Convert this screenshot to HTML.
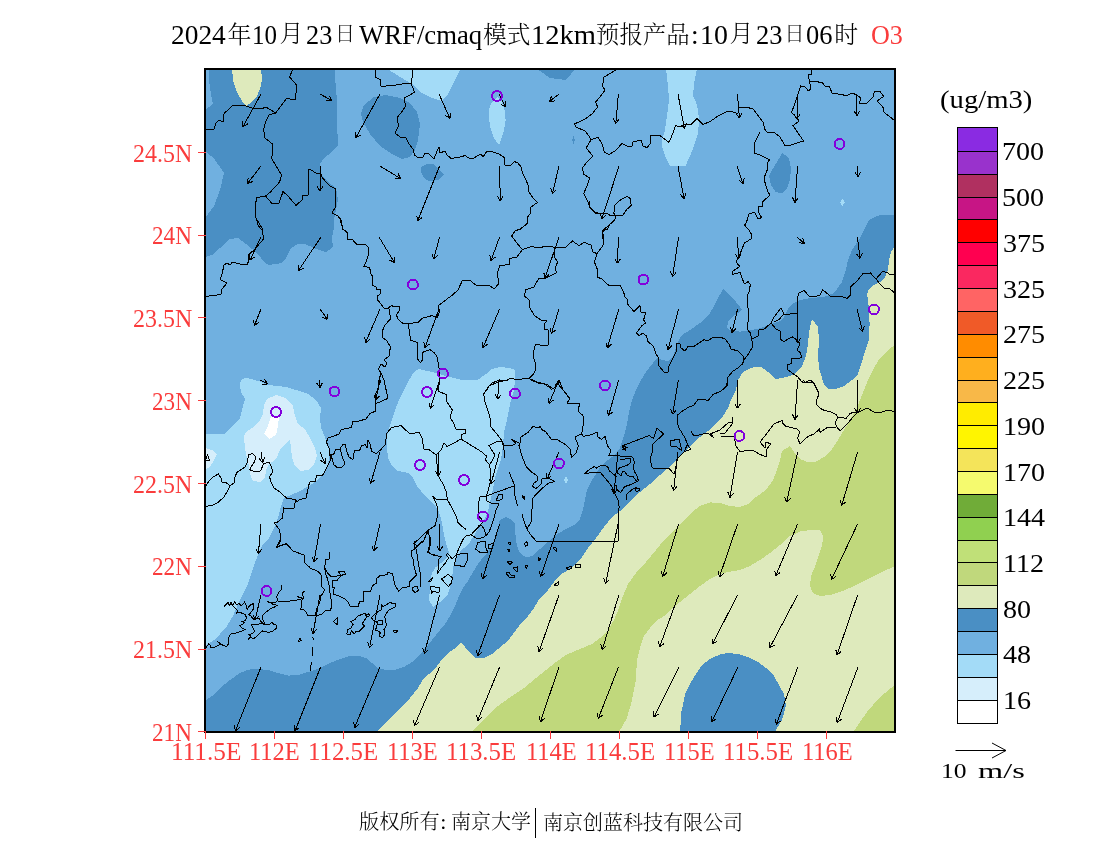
<!DOCTYPE html>
<html lang="zh-CN"><head><meta charset="utf-8"><title>WRF/cmaq O3</title>
<style>
html,body{margin:0;padding:0;background:#fff}
body{width:1100px;height:850px;position:relative;overflow:hidden;font-family:"Liberation Serif","Noto Serif CJK SC",serif}
.t{position:absolute;white-space:pre;line-height:1;color:#000;transform-origin:0 0}
.k{font-weight:300}
</style></head><body>
<svg width="1100" height="850" viewBox="0 0 1100 850" style="position:absolute;left:0;top:0" shape-rendering="crispEdges">
<defs><clipPath id="mapclip"><rect x="205" y="69" width="690" height="663"/></clipPath></defs>
<rect x="205" y="69" width="690" height="663" fill="#70b0e0"/>
<g clip-path="url(#mapclip)">
<polygon fill="#4a8fc4" points="335.0,68.0 335.6,86.0 337.0,100.0 337.6,140.0 337.6,146.0 332.0,152.0 324.0,158.0 320.0,164.0 320.0,168.0 322.0,176.0 328.0,182.0 336.0,188.0 338.0,200.0 336.0,210.0 334.0,220.0 333.6,230.0 332.0,238.0 333.0,247.0 326.0,252.4 314.0,248.0 306.0,244.4 298.0,244.0 291.0,248.0 286.0,258.0 282.0,263.0 269.0,265.0 264.0,262.0 258.0,254.0 246.0,244.0 238.0,238.0 230.0,239.0 220.0,248.0 212.0,255.0 205.0,257.0 205.0,218.0 214.0,206.0 220.0,190.0 224.0,173.0 214.0,158.5 205.0,151.0 205.0,110.0 213.0,104.0 211.0,94.0 209.5,84.0 209.0,68.0"/>
<polygon fill="#4a8fc4" points="361.0,114.0 364.0,105.0 374.0,97.0 386.0,95.0 400.0,98.0 410.0,103.0 417.0,112.0 420.0,124.0 418.0,140.0 415.0,150.0 410.0,157.0 402.0,159.0 392.0,154.0 380.0,146.0 370.0,134.0 363.0,122.0"/>
<polygon fill="#4a8fc4" points="421.0,167.0 426.0,164.4 433.0,164.0 439.0,169.0 444.0,175.0 438.0,180.0 430.0,181.6 424.0,178.0 421.0,172.0"/>
<polygon fill="#4a8fc4" points="536.0,68.0 550.0,78.0 566.0,80.0 576.0,68.0"/>
<polygon fill="#4a8fc4" points="573.4,136.0 575.0,140.0 573.4,144.0 572.0,140.0"/>
<polygon fill="#4a8fc4" points="782.4,153.0 789.0,158.0 791.0,168.0 790.0,180.0 787.0,188.0 782.4,193.6 775.6,192.0 771.0,185.0 769.0,176.0 772.0,170.0 777.0,162.0"/>
<polygon fill="#4a8fc4" points="896.0,214.4 878.0,215.6 869.0,220.0 864.0,230.0 860.0,238.0 852.0,250.0 848.0,260.0 846.0,270.0 842.0,282.0 834.0,293.0 824.0,297.0 810.0,298.0 800.0,300.0 792.0,304.0 788.0,309.0 784.0,317.0 780.0,321.0 774.0,323.0 766.0,326.0 758.0,329.0 748.0,330.4 740.0,331.6 732.0,331.0 727.0,328.0 728.0,322.0 732.0,317.0 738.0,313.0 742.0,309.4 732.0,297.0 723.0,289.0 717.0,300.0 713.0,308.0 708.0,316.0 700.0,323.0 690.0,330.0 682.0,335.0 679.0,340.0 676.0,348.0 673.0,356.0 668.0,361.0 662.0,360.0 657.0,358.0 653.0,363.0 646.0,372.0 640.0,382.0 636.0,390.0 632.0,400.0 629.0,412.0 627.0,424.0 624.0,436.0 620.0,448.0 615.0,455.0 608.0,460.0 600.0,467.0 596.0,474.0 592.0,480.0 587.0,490.0 585.0,500.0 583.0,510.0 580.0,519.0 574.0,525.0 564.0,530.0 556.0,535.0 548.0,542.0 540.0,549.0 532.0,556.0 526.5,557.4 523.0,555.7 519.4,552.1 517.0,546.2 515.8,539.1 515.2,530.8 514.7,523.7 511.1,519.6 506.4,516.9 501.7,519.0 499.3,520.8 498.7,527.3 496.9,533.2 494.6,539.1 492.2,545.0 488.7,550.9 485.1,555.7 481.6,559.2 478.0,563.9 474.5,569.8 470.9,575.7 468.0,581.0 463.0,588.0 459.0,596.0 455.0,606.0 450.0,616.0 445.0,624.0 440.0,630.0 432.0,640.0 424.0,650.0 418.0,657.0 412.0,662.0 404.0,667.0 396.0,669.6 386.0,670.0 378.0,668.0 372.0,663.0 366.0,658.0 358.0,655.6 350.0,656.0 340.0,659.0 330.0,663.0 320.0,668.0 308.0,672.0 298.0,675.0 288.0,675.6 278.0,673.0 268.0,670.0 258.0,669.0 248.0,669.6 240.0,673.0 230.0,680.0 220.0,688.0 212.0,696.0 205.0,701.0 205.0,733.0 896.0,733.0"/>
<polygon fill="#deeabc" points="896.0,244.0 891.0,252.0 889.0,260.0 888.0,270.0 885.0,277.0 880.0,282.0 874.0,285.0 869.0,289.0 867.0,294.0 868.0,300.0 869.0,310.0 869.6,324.0 869.0,340.0 866.0,348.0 863.0,358.0 860.0,368.0 858.0,374.0 852.0,380.0 844.0,386.0 836.0,389.0 829.0,389.0 824.0,385.0 822.0,378.0 819.0,368.0 818.0,356.0 819.0,340.0 818.0,327.0 812.0,319.0 809.0,332.0 808.0,344.0 806.0,356.0 802.0,366.0 795.0,374.0 786.0,377.0 776.0,379.0 768.0,372.0 761.0,367.0 752.0,367.6 743.0,372.0 738.0,380.0 736.0,390.0 731.0,400.0 728.0,408.0 723.0,416.0 716.0,424.0 708.0,431.0 700.0,437.0 692.0,444.0 684.0,452.0 676.0,460.0 668.0,468.0 660.0,475.0 650.0,484.0 640.0,492.0 630.0,501.0 620.0,511.0 612.0,517.0 604.0,527.0 596.0,538.0 588.0,548.0 582.0,557.0 576.0,564.0 568.0,570.0 560.0,575.0 554.0,582.0 548.0,590.0 540.0,598.0 534.0,608.0 528.0,616.0 522.0,622.0 516.0,630.0 510.0,638.0 504.0,644.0 498.0,649.0 492.0,654.0 484.0,658.0 476.0,658.0 470.0,653.0 465.0,647.0 461.0,642.0 454.0,649.0 447.0,654.0 440.0,662.0 434.0,670.0 424.0,678.0 418.0,688.0 410.0,698.0 400.0,708.0 375.0,733.0 896.0,733.0"/>
<polygon fill="#deeabc" points="232.0,68.0 233.0,80.0 237.0,92.0 242.0,101.0 246.4,105.6 251.0,103.0 257.0,96.0 260.4,88.0 262.0,80.0 261.0,68.0"/>
<polygon fill="#c0d87c" points="896.0,344.0 888.0,350.0 880.0,358.0 874.0,368.0 868.0,380.0 864.0,390.0 860.0,400.0 856.0,410.0 850.0,420.0 844.0,430.0 838.0,440.0 832.0,449.0 824.0,457.0 816.0,461.6 808.0,462.4 800.0,459.0 794.0,452.0 790.0,446.0 782.0,451.0 780.0,460.0 777.0,470.0 773.0,480.0 766.0,490.0 756.0,497.0 748.0,504.0 740.0,507.0 730.0,506.0 720.0,503.0 710.0,502.4 700.0,506.0 692.0,512.0 684.0,520.0 674.0,530.0 664.0,540.0 656.0,550.0 646.0,562.0 636.0,573.0 628.0,584.0 623.0,596.0 619.0,608.0 614.0,620.0 608.0,630.0 600.0,638.0 592.0,644.0 580.0,649.0 566.0,655.0 556.0,662.0 546.0,670.0 536.0,678.0 524.0,688.0 512.0,696.0 502.0,703.0 493.0,710.0 470.0,733.0 618.5,733.0 626.7,718.5 631.6,702.0 634.0,690.0 636.0,680.0 636.4,670.0 637.0,660.0 639.0,652.0 641.0,644.0 644.0,636.0 650.0,628.0 656.0,621.0 664.0,616.0 670.0,610.0 680.0,602.0 690.0,594.0 700.0,586.0 710.0,579.0 720.0,574.0 730.0,571.6 740.0,570.0 750.0,566.0 760.0,560.0 770.0,553.0 780.0,545.0 790.0,536.0 800.0,531.5 810.0,530.0 820.0,530.4 823.0,536.0 822.4,544.0 820.0,552.0 816.0,564.0 811.0,576.0 810.0,586.0 813.0,593.0 820.0,596.0 830.0,595.0 840.0,592.0 852.0,587.0 864.0,581.0 876.0,575.0 886.0,570.0 896.0,566.0"/>
<polygon fill="#c0d87c" points="852.5,733.0 867.0,712.0 880.0,697.0 896.0,684.0 896.0,733.0"/>
<polygon fill="#4a8fc4" points="680.0,733.0 681.4,712.0 685.6,692.4 690.0,684.0 696.0,674.0 702.0,665.0 710.0,659.0 720.0,654.4 728.0,653.0 738.0,654.0 748.0,657.0 758.0,662.0 766.0,668.0 774.0,676.0 780.0,687.0 784.0,694.0 786.0,705.5 782.0,720.0 774.0,733.0"/>
<polygon fill="#a3dbf7" points="386.0,68.0 400.0,77.0 412.0,84.0 420.0,92.0 432.0,98.0 441.0,101.0 447.0,96.0 453.0,84.0 457.0,76.0 461.0,68.0"/>
<polygon fill="#a3dbf7" points="497.0,97.0 491.0,103.0 489.0,110.0 489.0,118.0 490.4,128.0 494.0,138.0 499.0,145.0 501.0,140.0 504.0,130.0 505.6,120.0 505.0,112.0 502.0,102.0"/>
<polygon fill="#a3dbf7" points="666.0,68.0 668.0,86.0 669.0,100.0 667.0,116.0 665.0,130.0 662.0,140.0 662.4,148.0 665.0,156.0 669.6,165.6 685.6,165.6 690.0,156.0 694.0,146.0 698.0,134.0 699.0,120.0 698.0,110.0 696.0,102.0 693.0,96.0 694.0,84.0 697.0,68.0"/>
<polygon fill="#a3dbf7" points="842.4,199.0 845.0,202.4 842.4,206.0 840.0,202.4"/>
<polygon fill="#a3dbf7" points="205.0,434.0 225.0,434.0 232.0,426.0 240.0,418.0 243.0,406.0 245.0,399.0 241.0,392.0 240.0,385.0 241.0,380.0 246.0,377.6 260.0,381.6 268.0,385.0 286.0,387.0 296.0,390.0 308.0,394.0 316.0,400.0 321.0,408.0 320.0,418.0 321.0,428.0 325.0,437.0 328.0,446.0 330.0,454.0 328.0,464.0 324.0,473.0 318.0,480.0 309.0,486.0 300.0,491.0 291.0,495.0 284.0,498.0 281.0,506.0 278.0,518.0 274.0,528.0 269.0,538.0 262.0,546.0 260.0,550.0 256.0,560.0 252.0,572.0 248.0,584.0 243.0,594.0 238.0,604.0 233.0,616.0 227.0,626.0 220.0,634.0 214.0,640.0 205.0,646.0"/>
<polygon fill="#a3dbf7" points="404.0,390.0 399.0,400.0 395.0,410.0 392.0,420.0 389.0,428.0 387.0,436.0 387.0,448.0 388.0,458.0 392.0,466.0 398.0,471.0 408.0,473.0 413.0,478.0 417.0,486.0 414.2,480.0 417.7,487.1 423.6,494.2 430.7,501.3 435.5,506.0 439.0,511.9 441.4,520.2 443.1,529.6 444.9,539.1 447.3,547.4 449.6,553.3 447.3,556.8 441.4,562.7 435.5,567.5 431.9,573.4 430.7,580.0 430.0,588.0 429.0,600.0 433.0,607.0 440.0,602.0 448.0,594.0 452.0,580.0 452.6,573.4 453.2,567.5 454.4,562.7 456.7,558.0 459.1,553.3 461.5,549.7 465.0,547.4 468.6,544.4 470.9,540.3 473.9,535.6 476.8,530.8 479.2,527.3 481.6,523.7 483.9,520.2 486.3,515.5 488.1,510.7 489.2,506.0 490.4,500.1 492.2,493.0 493.4,487.1 494.6,480.0 496.0,474.0 501.0,460.0 503.0,446.0 504.0,432.0 507.0,420.0 510.0,404.0 514.0,390.0 515.0,380.0 515.0,370.0 509.0,368.0 500.0,367.0 492.0,369.0 486.0,374.0 478.0,379.6 460.0,379.6 446.0,376.0 432.0,372.0 419.0,369.0 414.0,372.0 409.0,380.0"/>
<polygon fill="#d6eefb" points="267.0,399.0 276.0,395.0 286.0,398.0 293.0,406.0 295.0,416.0 298.0,424.0 305.0,429.0 310.0,438.0 315.0,448.0 317.0,456.0 314.0,464.0 308.0,470.0 300.0,471.0 295.0,466.0 292.0,458.0 291.0,448.0 290.0,439.0 285.0,444.0 280.0,450.0 277.0,457.0 272.0,462.0 269.0,464.0 266.0,470.0 265.0,478.0 260.0,482.0 253.0,481.0 250.0,474.0 249.0,466.0 247.0,458.0 245.0,448.0 244.0,438.0 245.0,433.0 252.0,428.0 259.0,422.0 263.0,414.0 264.0,405.0"/>
<polygon fill="#d6eefb" points="205.0,448.0 212.0,450.0 217.0,454.0 214.0,460.0 210.0,467.0 205.0,470.0"/>
<polygon fill="#a3dbf7" points="566.0,476.5 568.0,480.4 566.0,484.5 564.0,480.4"/>
<polygon fill="#ffffff" points="271.0,417.0 279.0,417.0 278.0,426.0 276.0,435.0 269.0,439.0 264.0,434.0 268.0,426.0"/>
</g>
<g clip-path="url(#mapclip)" fill="none" stroke="#000" stroke-width="1" stroke-linejoin="round" shape-rendering="crispEdges">
<polyline points="206.0,129.6 214.0,129.0 216.0,123.0 219.0,120.0 223.6,122.0 224.0,113.6 232.4,105.6 246.4,106.0 255.0,109.0 267.0,107.6 275.6,113.0 287.0,98.0 292.4,100.0 295.6,99.6 296.6,85.0 289.6,77.0 292.4,70.0"/>
<polyline points="275.6,113.0 269.0,115.0 265.6,122.0 263.6,130.0 265.0,138.0 273.0,144.4 272.4,154.0 271.4,158.0 276.0,166.0 281.6,175.0 279.6,182.0 270.4,192.0 265.6,196.0 257.0,197.6 255.4,204.0 256.0,218.0 258.4,226.0 262.0,230.0"/>
<polyline points="265.6,196.0 272.0,203.6 279.0,203.0 283.0,191.6 288.0,196.0 296.0,205.4 302.0,200.0 302.4,196.0 308.0,195.6 309.0,184.0 308.0,169.6 311.0,170.0 316.0,173.0 321.0,173.6 322.4,178.0 330.0,186.0 335.6,189.0 336.0,200.0 335.0,208.0 332.0,213.0 338.0,216.0 341.0,220.0 343.0,230.0"/>
<polyline points="375.6,70.0 375.6,77.6 380.6,79.6 381.0,86.4 392.0,85.6 402.0,84.0 411.0,83.0 412.4,76.0 413.0,70.4"/>
<polyline points="411.0,83.0 414.4,92.0 409.0,95.6 404.0,98.0 405.6,106.0 401.0,113.0 397.4,117.0 398.4,126.0 395.0,133.0 400.0,137.0 406.0,138.0 409.0,144.0 413.6,150.0 414.4,155.0 418.0,157.6 423.0,157.0 425.0,153.6 429.0,154.0 434.0,159.0 437.0,151.0 439.0,147.0 440.0,153.0 445.0,151.0 447.0,155.0 451.0,158.4 458.0,157.6 465.0,155.6 469.0,158.0 473.0,159.0 477.0,156.0 481.0,154.0 483.0,157.0 487.0,151.0 492.0,151.6 499.0,154.0 504.4,157.6 505.0,165.0 510.0,166.0 514.4,161.6 518.0,163.0 521.0,167.0 522.4,173.0 526.0,180.0 528.0,185.0 529.0,192.0 533.0,198.0 537.6,202.4 531.0,207.0 530.0,214.0 527.0,218.0 527.6,223.0 523.0,227.0 520.0,230.0"/>
<polyline points="616.0,70.0 604.0,77.0 602.4,86.0 605.0,90.0 600.0,97.0 595.6,102.0 597.6,107.0 592.0,114.0 585.0,119.0 574.4,124.0 576.0,127.0 585.0,131.0 589.0,136.0 591.0,140.0 586.0,148.0 593.0,156.0 587.0,162.0 582.4,168.0 583.6,174.0 589.6,178.0 587.0,186.0 583.6,193.6 587.0,200.0 590.0,207.0 595.0,212.0 600.0,213.6"/>
<polyline points="591.0,140.0 598.0,137.0 602.0,144.0 604.4,152.0 609.0,154.4 615.0,151.0 622.0,143.6 628.0,146.4 632.0,146.0 633.0,142.0 641.0,140.0 643.0,146.0 647.0,147.6 650.0,144.0 651.0,135.0 660.0,135.6 664.4,139.0 669.0,142.4 673.0,133.0 675.6,125.6 681.0,127.0 684.0,124.0 691.0,124.4 697.0,118.6 703.0,124.4 710.0,121.6 718.0,116.0 728.0,111.0 733.0,112.0 738.0,113.6 739.0,107.0 748.0,107.6 753.0,109.0 760.0,118.0 763.6,123.0 764.4,129.0 767.6,132.4 775.0,133.0 780.0,137.0 785.0,145.6 791.0,145.0 803.6,141.0 798.0,133.0 793.0,125.6 799.0,121.0 797.0,118.0 791.6,112.4 795.0,103.0 798.0,94.0 800.6,86.0 805.0,87.0 808.0,90.4 811.0,89.6 809.6,81.0 808.0,75.0 812.0,74.0 811.0,70.0"/>
<polyline points="760.0,132.4 755.0,141.6 754.4,153.0 760.0,155.0 766.0,158.0 769.6,159.6 767.0,164.0 767.6,169.0 764.0,178.0 765.6,185.0 768.0,192.0 770.0,195.0 762.4,202.0 763.0,206.0 758.0,207.0 759.0,213.0 761.6,217.6 758.0,219.0 754.4,212.0 749.0,214.0 747.0,220.0 745.0,225.6 749.0,230.0"/>
<polyline points="809.6,81.0 822.0,82.4 825.0,86.0 829.6,87.0 832.0,93.0 840.0,94.4 847.0,95.6 852.0,93.0 857.0,95.0 861.0,98.4 859.0,104.0 867.0,103.0 873.0,97.0 874.4,91.6 879.6,91.0 883.6,96.4 877.0,101.0 883.6,108.0 884.0,112.4 890.0,117.0 894.0,120.0"/>
<polyline points="257.0,220.0 262.0,228.0 263.6,239.0 254.0,250.0 248.0,255.0 249.0,260.0 247.0,265.0 241.0,264.4 232.4,262.0 230.0,265.0 227.0,263.0 224.0,265.0 222.4,272.4 220.4,279.6 227.0,283.0 222.0,289.0 221.0,294.4 213.0,295.6 206.0,296.4"/>
<polyline points="340.0,220.0 343.0,229.0 347.0,232.4 347.0,239.0 352.4,239.6 356.4,244.0 366.0,245.0 369.0,248.0 368.4,255.0 366.0,262.0 364.0,266.4 369.6,267.6 371.0,274.0 373.0,277.0 372.4,285.0 376.0,287.0 376.4,290.0 380.6,289.6 380.0,294.4 377.0,296.0 378.0,300.4 384.0,308.0 389.0,309.0 390.0,315.0 390.4,319.0 385.0,325.0 382.4,331.0 382.0,337.0 387.0,341.0 390.4,347.0 389.0,356.0 384.0,360.0 387.0,363.0 385.0,367.0 381.0,364.0 378.4,369.0 381.0,373.0 384.0,380.0 386.0,390.0"/>
<polyline points="384.0,308.0 388.0,308.0 391.6,305.6 395.0,307.0 399.6,306.4 399.0,311.0 396.4,315.0 398.0,319.0 402.4,323.0 408.0,323.6 418.0,322.4 422.0,318.4 432.0,315.6 437.0,317.6 439.6,312.0 438.4,305.6 447.0,299.0 452.4,295.0 458.0,290.0 462.4,280.4 470.0,280.4 477.0,286.0 485.0,285.6 489.0,285.0 494.0,289.0 498.4,284.0 497.6,272.4 500.0,265.6 509.6,264.4 510.0,258.4 517.0,257.0 520.0,253.0 522.4,249.6 516.0,242.0 511.6,236.0 515.0,231.0 520.0,229.0 527.6,223.6 528.0,220.0"/>
<polyline points="408.0,323.6 409.6,332.0 410.4,340.0 417.0,342.4 418.0,350.0 417.6,359.0 420.4,362.4 423.0,359.6 422.4,352.4 430.0,349.6 434.4,353.0 437.6,357.6 438.4,366.0 440.0,372.0 439.0,382.0 437.0,390.0"/>
<polyline points="381.0,373.0 379.0,380.0 378.4,390.0"/>
<polyline points="522.4,249.6 532.0,246.4 538.0,248.0 547.0,246.0 555.0,247.4 566.0,247.0 572.4,241.0 579.0,245.6 584.0,242.4 591.0,245.0 593.0,252.0 597.0,253.6 603.0,245.6 603.6,237.0 602.4,231.0 609.0,225.0 615.0,220.0"/>
<polyline points="597.0,253.6 594.4,262.0 597.6,270.0 597.0,277.0 602.0,279.0 609.0,285.6 615.0,286.0 620.0,285.0 623.6,292.0 625.0,297.0 628.0,300.4 627.6,304.0 634.0,311.6 640.0,305.6 641.0,312.0 645.6,313.0 643.6,320.0 645.6,323.0 641.6,326.0 636.4,333.0 639.0,335.6 643.0,333.0 646.4,336.0 648.0,341.6 653.6,346.4 655.6,353.0 658.4,358.0 659.0,366.0 664.0,372.0 668.0,372.0 669.0,366.0 674.0,356.0 676.0,352.0 676.4,343.6 680.0,343.6 681.0,348.0 685.0,351.0 688.0,346.4 693.0,347.0 698.0,343.6 704.0,339.6 708.0,341.0 712.0,338.0 720.0,337.0 725.0,339.0 729.0,344.0 731.0,349.0 738.0,351.0 743.0,356.0 744.0,360.0 742.4,364.0 738.0,368.0 733.0,371.0 728.0,377.0 726.4,386.0 722.4,390.0"/>
<polyline points="555.0,247.4 554.0,256.0 557.6,262.0 555.0,269.0 557.0,272.4 546.0,278.0 538.4,279.0 534.0,287.0 525.6,290.0 524.4,296.0 529.0,300.0 530.0,308.0 534.4,315.6 541.0,320.0 547.0,321.0 544.0,324.0 544.4,329.0 548.0,329.6 549.0,338.0 548.0,345.0 543.0,345.6 535.6,344.0 534.0,350.0 533.0,357.0 535.6,363.0 536.0,369.0 533.6,374.0 529.0,378.4 522.4,379.0 515.0,379.6 512.0,378.0 504.0,381.0 499.6,380.0 492.0,383.0 488.0,387.0 487.0,390.0"/>
<polyline points="529.0,378.4 536.0,381.6 544.0,384.0 550.0,387.6 552.0,390.0"/>
<polyline points="555.0,386.0 559.0,380.0 563.0,390.0"/>
<polyline points="747.6,220.0 744.4,225.6 749.0,230.0 751.6,234.4 751.0,239.0 744.4,243.0 741.6,250.0 739.0,257.0 736.0,262.0 739.6,266.4 732.4,271.6 733.0,274.4 740.0,272.4 742.4,279.0 744.4,284.0 748.0,281.6 750.4,284.4 749.0,292.0 747.0,296.0 747.6,306.0 749.0,314.0 748.0,322.0 747.0,329.0 750.4,333.0 751.6,339.0 753.0,346.0 749.0,353.0 744.0,360.0"/>
<polyline points="751.6,339.0 758.0,336.0 759.0,330.0 764.4,329.0 771.0,323.0 774.0,317.0 781.0,308.0 784.0,314.4 797.0,313.6 797.6,306.0 797.0,299.0 799.0,293.0 804.0,290.4 810.0,297.0 819.6,295.6 822.4,290.0 825.6,292.0 830.0,296.0 841.0,296.4 847.0,298.4 851.0,294.4 850.4,287.0 857.0,281.0 863.0,273.6 870.4,273.0 876.0,279.0 882.4,271.6 887.6,272.4 890.0,275.0 894.0,274.4"/>
<polyline points="876.0,279.0 880.0,284.0 885.0,289.0 889.0,288.0 894.0,292.4"/>
<polyline points="771.0,323.0 776.0,329.0 780.0,331.0 781.0,339.6 784.0,341.6 788.0,339.0 792.4,337.0 797.0,340.0 800.0,344.0 797.0,350.0 800.0,352.4 801.6,357.0 798.0,359.0 792.0,358.4 791.0,363.6 787.0,365.0 787.0,369.0 793.0,373.6 798.0,377.0 801.0,381.0 804.0,383.0 810.0,380.0 814.0,383.0 817.0,390.0"/>
<polyline points="774.0,322.0 779.0,319.6 783.6,314.0"/>
<polyline points="381.0,380.0 375.0,396.0 376.0,403.6 388.0,398.4 384.0,380.0"/>
<polyline points="376.0,403.6 375.6,411.0 370.0,413.6 366.0,419.0 359.0,421.0 352.4,422.0 351.6,427.6 344.0,429.0 341.0,430.0 339.0,434.0 334.0,436.0 328.0,438.0 326.4,442.0 329.0,448.0 329.6,454.0 333.6,454.4 336.0,449.0 340.0,449.0 342.4,457.0 345.0,464.0 342.4,467.0 338.0,468.0 334.0,465.0 332.0,458.4 331.0,454.4"/>
<polyline points="329.6,454.0 331.0,459.0 325.0,471.0 322.4,475.6 316.4,475.0 315.6,481.0 309.6,482.0 308.0,489.0 306.0,498.0 299.6,499.6 297.0,502.0 295.6,499.6 286.4,498.0 280.0,492.0 274.0,488.0 271.0,482.0 269.6,477.0 273.0,471.0 270.0,464.0 269.0,462.4 263.6,463.6 261.0,470.0 259.0,471.6 252.4,471.0 249.6,469.6 251.6,466.0 254.4,462.0 256.0,457.0 252.4,453.6 248.4,455.0 247.6,462.0 245.0,467.0 237.0,472.4 234.4,478.0 234.0,483.0 230.0,486.0 227.0,492.0 224.0,497.0 218.0,502.4 213.0,505.0 208.4,505.6 206.0,507.0"/>
<polyline points="230.0,486.0 226.0,482.4 221.6,482.0 221.0,478.0 218.4,474.0 213.0,477.0 209.0,481.0 206.0,486.0"/>
<polyline points="340.0,449.0 342.4,445.0 345.0,444.0 347.0,452.0 349.0,457.0 353.0,459.6 354.4,450.0 359.6,450.4 361.6,446.0 365.0,444.4 367.0,447.6 368.0,440.0 370.0,444.0 371.6,451.0 376.0,453.6 380.0,450.4 385.6,444.4 386.4,433.6 391.6,427.6 401.0,425.6 405.0,429.6 410.0,433.6 420.0,432.4 419.6,433.0 422.0,438.0 424.0,449.0 429.6,450.0 436.0,455.0 441.0,450.0 444.0,443.0 447.0,446.4 452.4,444.0 461.0,439.0 461.0,434.4 465.6,433.6 465.0,429.0 455.6,429.0 453.6,423.0 450.0,417.0 452.4,410.0 446.4,401.0 447.0,395.0 438.0,391.0 440.0,380.0"/>
<polyline points="295.6,499.6 294.0,508.0 288.0,509.0 283.6,508.0 282.4,518.0 277.0,522.4 274.4,523.0 279.0,529.0 280.4,534.0 280.0,542.0 277.0,547.0 284.0,544.0 287.6,544.4 291.0,549.0"/>
<polyline points="436.0,455.0 437.0,464.0 438.0,475.6 443.0,484.0 446.0,491.0 447.6,500.0 452.0,508.0 456.0,516.0 458.0,522.4 462.0,526.4 466.4,529.6"/>
<polyline points="447.6,500.0 437.0,499.6 433.0,496.4 435.6,502.0 437.6,508.0 437.0,518.0 435.0,525.6 428.0,530.4 420.0,538.0 414.0,543.6 415.0,550.0"/>
<polyline points="428.0,530.4 429.6,538.0 430.0,550.0"/>
<polyline points="428.0,530.4 424.0,540.0 417.0,546.0 414.0,543.6"/>
<polyline points="461.0,439.0 469.0,444.0 476.0,448.4 482.0,452.0 486.4,456.0 485.6,460.0 489.6,465.0 493.0,459.0 495.0,455.0 491.0,449.0 489.0,445.6 498.0,441.0 502.4,441.6"/>
<polyline points="489.6,465.0 491.0,474.0 490.0,483.0 488.0,491.0 486.0,496.4 480.0,497.0 478.4,504.0 479.0,516.0 482.0,520.0"/>
<polyline points="486.0,496.4 487.0,501.0 492.0,503.6 499.0,503.6 496.0,510.0 494.0,518.0 491.0,527.0 489.0,532.0 486.0,536.0"/>
<polyline points="486.0,496.4 494.0,493.0 504.0,489.6 513.6,486.0"/>
<polyline points="508.0,380.0 498.0,382.0 489.0,386.0 483.6,394.0 485.0,402.0 488.0,411.0 490.4,419.0 491.0,427.0 495.6,432.4 500.0,438.0 502.4,441.6 504.0,445.6 512.0,445.6 516.0,443.6 512.0,439.6 517.0,442.0 520.0,443.6"/>
<polyline points="502.4,441.6 504.0,450.0 504.4,458.0"/>
<polyline points="520.0,443.6 521.0,437.0 528.0,432.4 533.0,426.4 538.0,428.0 540.4,426.4 541.6,429.6 545.6,431.6 551.0,439.0 558.0,440.0 566.0,445.0 570.0,449.0 571.6,457.6 576.0,453.0 578.4,446.0 575.0,437.0 581.6,434.0 583.6,436.4 590.0,435.0 597.0,432.4 598.0,437.0 601.6,439.6 605.0,436.4 607.6,446.0 611.0,450.4 609.0,455.0 619.0,455.0"/>
<polyline points="520.0,443.6 519.0,445.6 522.0,456.0 526.0,466.4 532.0,472.4 537.0,475.6 538.0,480.0 533.6,483.6 532.4,486.4 536.0,488.4 541.0,484.4 541.6,479.0 548.4,478.0 555.0,481.6 549.0,483.0 542.4,488.0 536.0,494.4 532.4,499.0 532.0,510.0 531.0,522.0 527.0,529.0 530.0,534.0 536.0,541.0 618.4,541.0"/>
<polyline points="509.0,471.6 514.0,484.0 515.0,496.0 517.6,506.0"/>
<polyline points="522.0,514.4 525.0,524.0 527.0,529.0"/>
<polyline points="531.0,380.0 538.0,383.0 547.0,384.4 553.0,389.0 558.0,384.0 559.0,380.0"/>
<polyline points="558.0,384.0 564.0,391.0 567.0,395.0 570.0,399.0 567.0,403.0 576.0,403.6 579.6,404.0 578.0,411.0 583.0,415.6 583.6,423.0 581.6,434.0"/>
<polyline points="496.4,500.0 499.0,494.0 503.0,494.4 502.0,499.0 498.0,501.0 496.4,500.0"/>
<polyline points="521.6,495.6 525.0,496.4 524.4,499.6 521.6,495.6"/>
<polyline points="727.0,380.0 727.0,386.0 720.0,391.6 713.0,394.4 708.0,401.0 704.0,399.0 698.0,399.6 694.0,405.0 688.0,407.6 681.0,412.0 677.0,415.6 677.0,421.0 678.4,427.0 682.0,433.0 685.0,438.0 687.6,444.0 684.0,452.0 677.0,459.0 675.6,469.0 674.0,474.0 669.0,468.4 652.4,468.0 650.0,459.0 652.4,452.0 653.0,444.0 663.6,434.0 657.0,428.0 653.6,438.4 649.0,435.6 622.0,446.0 624.0,449.0 628.0,447.0"/>
<polyline points="684.0,452.0 691.0,449.0 688.0,445.6 685.0,438.0"/>
<polyline points="670.0,441.0 679.0,439.0 682.0,451.0 677.0,447.0 671.0,446.0 670.0,441.0"/>
<polyline points="691.0,431.6 694.0,436.0 708.0,433.0 713.6,437.6 711.0,433.6 720.0,430.0 728.0,423.0 733.0,422.0 732.0,417.0"/>
<polyline points="720.0,434.0 725.0,433.0 733.0,423.0"/>
<polyline points="720.0,436.0 734.0,436.4 736.0,446.0 740.0,451.6 752.0,450.0 760.0,454.4 766.4,457.0 766.0,450.0 771.0,443.6 766.0,442.4 765.0,448.0 760.0,442.0 768.0,432.0 774.0,424.0 783.0,420.0 782.4,423.0 786.0,426.4 797.0,429.0 800.0,431.6 797.6,438.0 800.0,444.0 808.0,436.4 814.0,434.0 819.6,429.0 820.0,432.4 827.0,427.6 836.0,427.0"/>
<polyline points="803.0,380.0 806.0,383.0 813.0,382.0 817.0,389.0 819.0,394.0 817.0,399.0 816.0,404.0 822.0,409.6 831.0,412.0 836.0,414.4 838.0,417.0 846.0,418.4 850.0,413.6 854.0,412.0 857.0,413.0 867.0,408.0 874.0,412.0 878.0,413.0 889.0,410.0 894.0,411.6"/>
<polyline points="838.0,417.0 835.0,423.0 837.0,427.0 840.0,431.0 848.0,423.0 853.0,417.0 857.0,413.0"/>
<polyline points="622.0,449.0 626.0,450.4 625.6,446.0 622.0,446.0"/>
<polyline points="626.0,500.0 627.0,494.0 632.0,489.6 637.0,487.0"/>
<polyline points="635.0,489.0 639.0,488.0 640.0,490.4 636.4,491.6 635.0,489.0"/>
<polyline points="280.0,540.0 276.0,547.6 286.0,543.6 293.0,551.0 304.0,555.0 304.4,562.4 310.0,567.6"/>
<polyline points="224.2,606.2 228.1,602.5 229.5,605.4 231.0,602.5 232.5,605.4 234.5,601.9 236.6,604.8 239.0,603.6 241.4,605.8 244.7,601.9 246.1,605.4 247.3,609.5 249.6,605.4 253.4,603.6 253.8,608.4 251.4,611.9 248.5,614.9 250.8,616.0 254.4,620.2"/>
<polyline points="232.5,605.4 235.5,608.4 237.8,611.3 236.6,613.1 240.2,612.5 244.9,614.3 246.7,617.8 244.9,620.8 241.4,621.4 244.3,622.0 242.5,624.9 239.0,625.1 242.0,627.9 245.5,629.6 241.4,631.1 235.5,633.2 230.7,634.1 229.0,636.7 228.4,643.8 226.6,646.4 223.6,645.6 220.7,643.8 217.1,641.5 220.7,644.4 215.4,646.8 211.2,648.0 210.0,644.8 208.9,643.8 206.5,646.8 205.3,649.1"/>
<polyline points="281.5,585.3 281.5,589.5 278.6,592.4 276.8,596.5 277.4,600.1 278.6,601.5 288.0,601.3 296.9,600.1 301.4,598.9 304.0,598.3 302.8,595.4 302.6,592.4 304.6,591.6"/>
<polyline points="267.4,601.5 270.9,603.0 275.6,602.5 277.1,601.3"/>
<polyline points="270.9,603.0 273.9,604.8 277.4,605.1 275.6,606.6 270.9,608.4 266.2,611.9 262.6,615.5 262.0,618.4 263.8,620.8 264.4,624.9"/>
<polyline points="254.4,620.2 255.5,618.4 259.1,618.4 260.9,621.4 262.6,623.1 264.4,624.9 269.1,624.9 271.5,622.3 273.9,624.3 276.8,625.5 276.2,628.5 273.3,630.8 269.1,632.2 264.4,631.8 262.0,630.8 259.1,633.8 255.5,637.3 253.8,638.5 250.8,637.7 248.5,639.1 250.8,636.1 248.7,634.4 252.0,633.8 254.6,631.1 253.2,628.5 251.4,624.9 257.9,624.7 262.0,622.8"/>
<polyline points="297.1,596.5 300.5,597.7 303.4,598.3 301.6,600.7 301.9,605.4 300.5,609.0 304.6,610.1 307.0,613.7 307.0,615.2 314.6,615.2"/>
<polyline points="298.3,641.5 299.9,638.1 301.6,640.5 298.3,641.5"/>
<polyline points="312.9,636.7 313.2,640.3"/>
<polyline points="312.3,647.4 312.3,655.6"/>
<polyline points="311.3,662.1 310.5,671.0"/>
<polyline points="310.0,568.4 314.7,569.8 319.5,572.5 321.8,576.6 321.8,586.7 324.8,589.6 322.4,594.4 320.6,595.5 320.0,601.5 317.1,608.0 315.9,612.1 315.7,615.6 310.0,615.6"/>
<polyline points="315.7,615.6 321.2,614.5 325.4,610.7 330.1,610.7 331.5,607.4 331.5,603.8 330.7,596.7 329.5,589.6 328.9,583.7 327.1,577.8 325.4,573.1 324.8,568.4 325.4,559.5 329.5,558.9 329.5,552.4"/>
<polyline points="325.4,568.4 327.7,573.1 331.3,576.9 337.2,576.0 341.9,575.2 345.5,574.0 344.3,571.3 341.9,571.7 338.4,571.9 341.3,575.5 337.2,580.2 332.5,580.8 332.7,587.3 334.8,587.5 333.4,589.6 333.0,593.8 337.2,595.3 341.0,597.0 342.9,597.7 344.9,599.1 347.8,602.0 350.2,606.2 358.2,606.2 359.6,601.5 363.2,601.5 363.4,592.0 370.3,591.4 372.0,587.3 373.8,584.3 376.8,583.7 376.8,578.4 380.3,575.2 387.4,574.9 387.8,572.5 392.1,573.7 393.3,576.6 394.5,583.7 396.3,587.3 398.6,591.4 402.2,587.9 409.0,586.7 409.9,581.4 416.4,574.9 415.2,570.7 413.4,563.6 414.0,561.3 411.6,556.5 411.4,551.2 415.2,548.3 414.0,542.4 417.0,540.0"/>
<polyline points="415.2,548.3 418.7,545.3 424.0,540.6"/>
<polyline points="415.8,548.3 417.0,554.2 418.1,561.3 419.3,568.4 420.5,574.3 420.5,586.7"/>
<polyline points="430.0,540.0 430.5,544.7 429.4,548.3 427.6,552.4 432.9,555.1 437.6,556.0 440.0,556.0"/>
<polyline points="346.6,634.5 347.8,629.8 350.8,628.0 353.1,624.5 350.8,621.5 355.5,619.2 357.3,616.2 362.0,614.5 365.0,613.3 365.5,615.6 368.5,613.9 369.7,615.6 366.7,616.8 364.4,620.4 362.0,623.9 364.6,625.7 362.0,628.6 359.6,631.0 355.5,631.9 354.3,634.0 351.4,631.0 350.2,634.5 346.6,634.5"/>
<polyline points="371.5,617.4 374.4,614.5 378.0,611.5 381.5,609.7 381.5,604.4 383.0,606.8 386.8,604.4 390.4,602.4 392.7,603.8 395.3,603.8 395.7,606.8 392.7,608.0 389.2,609.7 386.8,612.7 384.7,616.2 385.6,621.5 386.6,625.1 383.9,629.8 385.0,634.0 382.1,638.1 379.1,635.7 380.3,632.8 377.4,630.4 375.0,630.4 376.8,626.9 377.4,622.7 374.8,621.5 372.6,619.8 371.5,617.4"/>
<polyline points="374.8,621.5 382.1,620.4 382.1,624.5 378.0,624.5"/>
<polyline points="333.4,621.5 337.4,617.4 337.2,624.5 333.4,621.5"/>
<polyline points="392.7,630.8 398.0,630.8 395.3,632.8 392.7,630.8"/>
<polyline points="412.2,587.9 417.0,585.9 418.5,590.2 415.2,592.6 412.8,590.2 412.2,587.9"/>
<polyline points="454.0,565.0 457.0,555.0 463.0,553.0 468.0,554.0 467.6,560.0 464.0,567.0 459.0,565.6 454.0,565.0"/>
<polyline points="441.6,579.0 448.0,574.4 452.4,577.6 451.6,583.0 448.4,586.4 445.0,583.0 441.6,579.0"/>
<polyline points="430.4,586.4 439.6,587.6 439.0,592.4 433.0,591.6 431.6,593.6 430.4,586.4"/>
<polyline points="428.4,582.0 433.0,577.0 431.0,581.0 428.4,582.0"/>
<polyline points="475.6,549.0 478.0,542.4 485.0,541.0 486.0,548.0 488.0,553.0 480.0,552.4 475.6,549.0"/>
<polyline points="488.0,544.4 493.6,543.6 492.4,548.4 488.4,548.4 488.0,544.4"/>
<polyline points="508.0,542.0 511.0,543.0 509.6,545.0 508.0,542.0"/>
<polyline points="507.0,549.0 510.0,550.0 509.0,551.6 507.0,549.0"/>
<polyline points="524.4,543.6 527.0,541.6 527.6,545.0 525.6,546.4 524.4,543.6"/>
<polyline points="507.0,561.6 512.4,562.0 510.0,564.4 507.0,561.6"/>
<polyline points="513.0,568.0 517.6,567.0 517.0,572.0 513.0,568.0"/>
<polyline points="525.0,565.0 527.6,566.0 526.4,568.4 525.0,565.0"/>
<polyline points="538.0,557.6 541.0,559.0 539.0,560.4 538.0,557.6"/>
<polyline points="506.0,573.0 509.0,572.4 511.0,575.0 515.0,575.6 514.0,578.0 509.0,577.0 506.0,573.0"/>
<polyline points="553.0,548.0 556.0,547.6 556.4,551.6 553.0,548.0"/>
<polyline points="566.4,568.0 571.0,566.0 572.0,568.4 568.0,569.6 566.4,568.0"/>
<polyline points="575.0,564.4 580.4,564.0 581.0,567.0 576.0,567.6 575.0,564.4"/>
<polyline points="554.0,585.0 559.0,581.6 558.0,585.0 554.0,585.0"/>
<polyline points="589.1,201.5 589.4,207.4 595.3,213.5 600.0,213.2 606.0,213.0 610.0,215.3 615.3,215.3 613.0,212.4 614.4,211.8 614.4,205.9 618.2,201.8 621.2,199.4 627.4,196.2 630.3,198.8 630.6,203.8 631.8,205.0 626.5,209.7 622.9,215.3 615.3,215.3 615.3,218.8 609.4,224.7 607.4,229.1 603.5,230.6 602.4,233.5 602.6,238.2 603.5,240.0"/>
<polyline points="618.5,541.0 618.5,520.0 619.1,506.4 618.0,499.8 615.8,495.5 613.6,491.1 612.0,486.7 606.0,479.1 600.0,472.0 594.0,472.5 584.7,473.4 589.6,469.3 594.5,466.5 596.2,468.2 600.5,465.5 604.9,465.5 607.6,466.5 609.3,470.9 614.2,474.7 616.9,476.9"/>
<polyline points="618.0,455.6 621.3,456.2 631.1,456.2 633.3,458.4 634.4,462.7 633.3,466.0 634.4,471.5 637.6,476.9 638.2,480.7 635.5,482.4 631.1,484.5 624.5,486.7 620.7,492.7 616.9,489.5 615.8,484.5"/>
<polyline points="620.2,459.5 630.0,458.4 630.5,462.7 627.8,464.9 619.1,468.2 616.9,472.5 621.3,475.8 622.4,472.0 624.5,471.5 627.8,475.8 633.3,476.9 636.5,481.3"/>
<polyline points="608.2,455.6 618.0,455.6"/>
<polyline points="482.7,522.5 470.9,534.9 466.2,535.5 463.2,539.0 460.3,544.9 457.9,550.8 455.6,555.6 452.0,559.1 449.6,555.6 447.3,553.2 446.7,555.6 448.5,557.9 444.9,563.8 441.4,567.4 437.8,573.3 438.4,563.8 439.0,559.1 441.4,556.7 436.6,555.6 430.7,553.8 427.8,552.0 429.0,547.3 431.0,541.4 429.6,535.5 426.6,531.9"/>
<polyline points="470.9,534.9 476.8,538.4 482.7,537.8 485.7,535.5 484.5,529.6 481.6,525.4 478.0,525.4"/>
<polyline points="205.5,460.0 207.5,454.5 209.5,460.0 205.5,460.0"/>
</g>
<g fill="none" stroke="#000" clip-path="url(#mapclip)"><path d="M261.0,94.0L243.0,126.6M320.0,94.0L332.0,100.6M380.0,94.0L355.6,138.0M439.0,94.0L450.0,118.6M499.0,94.0L505.4,107.0M559.0,94.0L549.4,101.6M618.4,94.0L615.8,123.6M678.0,94.0L684.4,128.6M737.4,94.0L739.4,118.0M797.0,94.0L797.0,119.0M856.6,94.0L857.0,115.6M261.0,166.0L247.4,183.6M320.0,166.0L320.0,191.0M380.0,166.0L400.6,178.6M439.6,166.0L417.6,221.0M499.4,166.0L500.4,201.0M559.0,166.0L552.4,193.6M619.0,166.0L601.8,219.0M678.0,166.0L684.0,198.6M737.0,166.0L743.0,183.6M797.6,166.0L795.0,202.4M857.4,166.0L858.0,176.6M261.0,237.0L250.0,260.0M321.0,237.0L298.4,270.6M379.0,237.0L394.4,262.6M439.6,237.0L433.6,259.4M499.6,237.0L491.0,260.6M559.0,237.0L545.0,278.0M618.4,237.0L617.5,263.5M678.6,237.0L672.6,276.6M737.4,237.0L738.6,259.0M797.0,237.0L804.4,243.6M857.4,237.0L860.0,258.4M261.0,309.0L254.4,325.6M320.0,309.0L327.4,319.4M380.0,309.0L365.6,342.6M439.0,309.0L425.0,347.6M499.6,309.0L483.0,347.6M559.0,309.0L551.4,333.6M618.8,309.0L607.3,348.0M678.6,309.0L668.0,349.6M737.6,309.0L732.0,332.4M797.0,309.0L798.0,343.0M857.0,309.0L862.6,331.6M260.0,380.0L267.6,384.0M319.4,380.0L320.0,387.6M380.0,380.0L375.6,400.0M439.6,380.0L430.4,408.4M499.0,380.0L497.6,399.4M559.0,380.0L549.0,403.4M618.6,380.0L608.6,415.6M678.4,380.0L672.6,414.4M737.4,380.0L737.6,408.4M797.6,380.0L795.0,419.4M857.6,380.0L857.6,413.0M261.0,452.0L262.6,462.6M320.0,452.0L325.0,463.6M380.0,452.0L370.6,483.6M439.0,452.0L438.0,476.0M499.6,452.0L491.0,484.0M559.0,452.0L547.0,479.0M618.0,452.0L614.0,494.0M678.0,452.0L673.6,490.6M737.6,452.0L730.0,497.4M797.6,452.0L786.6,502.4M857.6,452.0L841.6,505.6M261.0,524.0L258.4,553.6M320.6,524.0L314.0,562.0M380.0,524.0L373.6,551.0M439.4,524.0L440.0,551.0M499.6,524.0L482.4,579.0M559.0,524.0L540.6,576.6M618.0,524.0L605.6,583.6M678.6,524.0L662.6,576.6M737.6,524.0L719.4,577.0M797.6,524.0L775.6,576.0M857.6,524.0L831.4,579.6M261.0,595.0L255.0,620.0M320.0,595.0L313.0,633.6M380.0,595.0L369.6,647.6M439.6,595.0L424.4,653.6M499.6,595.0L477.6,656.0M559.0,595.0L539.0,651.6M618.8,595.0L602.3,649.6M678.6,595.0L659.6,647.0M737.6,595.0L712.4,644.0M797.6,595.0L769.6,648.0M857.6,595.0L837.0,655.0M261.0,667.0L235.3,731.0M320.6,667.0L295.0,731.0M380.0,667.0L354.5,727.7M439.6,667.0L414.4,725.7M499.6,667.0L477.5,720.8M559.0,667.0L540.4,721.8M618.5,667.0L598.3,718.5M679.0,667.0L653.9,717.0M738.0,667.0L711.8,721.8M797.9,667.0L776.3,724.4M858.0,667.0L837.2,722.5" stroke-width="1" shape-rendering="crispEdges"/><path d="M243.0,126.6L247.8,123.8M243.0,126.6L242.8,121.0M332.0,100.6L329.2,95.8M332.0,100.6L326.4,100.8M355.6,138.0L360.5,135.2M355.6,138.0L355.4,132.4M450.0,118.6L450.7,113.0M450.0,118.6L445.4,115.4M505.4,107.0L505.9,101.4M505.4,107.0L500.7,104.0M549.4,101.6L555.0,100.9M549.4,101.6L551.4,96.4M615.8,123.6L619.1,119.1M615.8,123.6L613.3,118.6M684.4,128.6L686.4,123.4M684.4,128.6L680.7,124.4M739.4,118.0L741.9,113.0M739.4,118.0L736.1,113.5M797.0,119.0L799.9,114.2M797.0,119.0L794.1,114.2M857.0,115.6L859.8,110.7M857.0,115.6L854.0,110.9M247.4,183.6L252.6,181.6M247.4,183.6L248.1,178.0M320.0,191.0L322.9,186.2M320.0,191.0L317.1,186.2M400.6,178.6L398.0,173.6M400.6,178.6L395.0,178.6M417.6,221.0L422.1,217.6M417.6,221.0L416.7,215.5M500.4,201.0L503.1,196.1M500.4,201.0L497.4,196.3M552.4,193.6L556.3,189.6M552.4,193.6L550.7,188.3M601.8,219.0L606.0,215.3M601.8,219.0L600.5,213.5M684.0,198.6L686.0,193.4M684.0,198.6L680.3,194.4M743.0,183.6L744.2,178.1M743.0,183.6L738.7,180.0M795.0,202.4L798.2,197.8M795.0,202.4L792.5,197.4M858.0,176.6L860.6,171.6M858.0,176.6L854.8,172.0M250.0,260.0L254.7,256.9M250.0,260.0L249.5,254.4M298.4,270.6L303.5,268.2M298.4,270.6L298.7,265.0M394.4,262.6L394.4,257.0M394.4,262.6L389.5,260.0M433.6,259.4L437.6,255.5M433.6,259.4L432.1,254.0M491.0,260.6L495.4,257.1M491.0,260.6L489.9,255.1M545.0,278.0L549.3,274.4M545.0,278.0L543.8,272.5M617.5,263.5L620.5,258.8M617.5,263.5L614.8,258.6M672.6,276.6L676.2,272.3M672.6,276.6L670.5,271.4M738.6,259.0L741.2,254.0M738.6,259.0L735.5,254.4M804.4,243.6L802.7,238.3M804.4,243.6L798.9,242.6M860.0,258.4L862.3,253.3M860.0,258.4L856.6,254.0M254.4,325.6L258.9,322.2M254.4,325.6L253.5,320.1M327.4,319.4L327.0,313.8M327.4,319.4L322.3,317.2M365.6,342.6L370.1,339.3M365.6,342.6L364.8,337.1M425.0,347.6L429.3,344.1M425.0,347.6L423.9,342.1M483.0,347.6L487.5,344.3M483.0,347.6L482.2,342.1M551.4,333.6L555.6,329.9M551.4,333.6L550.1,328.2M607.3,348.0L611.4,344.2M607.3,348.0L605.9,342.6M668.0,349.6L672.0,345.7M668.0,349.6L666.4,344.2M732.0,332.4L735.9,328.4M732.0,332.4L730.3,327.1M798.0,343.0L800.7,338.1M798.0,343.0L795.0,338.3M862.6,331.6L864.2,326.2M862.6,331.6L858.6,327.6M267.6,384.0L264.7,379.2M267.6,384.0L262.0,384.3M320.0,387.6L322.5,382.6M320.0,387.6L316.7,383.0M375.6,400.0L379.4,395.9M375.6,400.0L373.8,394.7M430.4,408.4L434.6,404.7M430.4,408.4L429.1,402.9M497.6,399.4L500.8,394.8M497.6,399.4L495.1,394.4M549.0,403.4L553.5,400.1M549.0,403.4L548.2,397.9M608.6,415.6L612.7,411.8M608.6,415.6L607.1,410.2M672.6,414.4L676.2,410.1M672.6,414.4L670.6,409.2M737.6,408.4L740.5,403.6M737.6,408.4L734.7,403.6M795.0,419.4L798.2,414.8M795.0,419.4L792.4,414.4M857.6,413.0L860.5,408.2M857.6,413.0L854.7,408.2M262.6,462.6L264.7,457.4M262.6,462.6L259.0,458.3M325.0,463.6L325.7,458.1M325.0,463.6L320.5,460.3M370.6,483.6L374.7,479.8M370.6,483.6L369.2,478.2M438.0,476.0L441.1,471.3M438.0,476.0L435.3,471.1M491.0,484.0L495.0,480.1M491.0,484.0L489.5,478.6M547.0,479.0L551.6,475.8M547.0,479.0L546.3,473.4M614.0,494.0L617.3,489.5M614.0,494.0L611.6,488.9M673.6,490.6L677.0,486.2M673.6,490.6L671.3,485.5M730.0,497.4L733.6,493.1M730.0,497.4L727.9,492.2M786.6,502.4L790.4,498.3M786.6,502.4L784.8,497.1M841.6,505.6L845.7,501.8M841.6,505.6L840.2,500.2M258.4,553.6L261.7,549.1M258.4,553.6L255.9,548.6M314.0,562.0L317.7,557.8M314.0,562.0L312.0,556.8M373.6,551.0L377.5,547.0M373.6,551.0L371.9,545.7M440.0,551.0L442.8,546.1M440.0,551.0L437.0,546.3M482.4,579.0L486.6,575.3M482.4,579.0L481.1,573.6M540.6,576.6L544.9,573.0M540.6,576.6L539.5,571.1M605.6,583.6L609.4,579.5M605.6,583.6L603.8,578.3M662.6,576.6L666.8,572.8M662.6,576.6L661.2,571.2M719.4,577.0L723.7,573.4M719.4,577.0L718.2,571.5M775.6,576.0L780.1,572.7M775.6,576.0L774.8,570.5M831.4,579.6L836.1,576.5M831.4,579.6L830.8,574.0M255.0,620.0L258.9,616.0M255.0,620.0L253.3,614.7M313.0,633.6L316.7,629.4M313.0,633.6L311.0,628.4M369.6,647.6L373.4,643.5M369.6,647.6L367.7,642.3M424.4,653.6L428.4,649.7M424.4,653.6L422.8,648.2M477.6,656.0L481.9,652.5M477.6,656.0L476.5,650.5M539.0,651.6L543.3,648.0M539.0,651.6L537.9,646.1M602.3,649.6L606.4,645.8M602.3,649.6L600.9,644.2M659.6,647.0L664.0,643.5M659.6,647.0L658.5,641.5M712.4,644.0L717.2,641.1M712.4,644.0L712.0,638.4M769.6,648.0L774.4,645.1M769.6,648.0L769.3,642.4M837.0,655.0L841.3,651.4M837.0,655.0L835.8,649.5M235.3,731.0L239.8,727.6M235.3,731.0L234.4,725.5M295.0,731.0L299.5,727.6M295.0,731.0L294.1,725.5M354.5,727.7L359.0,724.4M354.5,727.7L353.7,722.2M414.4,725.7L418.9,722.4M414.4,725.7L413.6,720.2M477.5,720.8L482.0,717.5M477.5,720.8L476.7,715.3M540.4,721.8L544.7,718.2M540.4,721.8L539.2,716.3M598.3,718.5L602.7,715.1M598.3,718.5L597.4,713.0M653.9,717.0L658.6,714.0M653.9,717.0L653.5,711.4M711.8,721.8L716.5,718.7M711.8,721.8L711.3,716.2M776.3,724.4L780.7,720.9M776.3,724.4L775.3,718.9M837.2,722.5L841.6,719.0M837.2,722.5L836.2,717.0" stroke-width="1" shape-rendering="crispEdges"/></g>
<g fill="none" stroke="#8200dc" stroke-width="2" shape-rendering="crispEdges">
<circle cx="497.0" cy="96.0" r="4.9"/>
<circle cx="839.6" cy="144.0" r="4.9"/>
<circle cx="413.0" cy="284.6" r="4.9"/>
<circle cx="643.4" cy="279.6" r="4.9"/>
<circle cx="874.0" cy="309.4" r="4.9"/>
<circle cx="334.5" cy="391.5" r="4.9"/>
<circle cx="276.0" cy="412.0" r="4.9"/>
<circle cx="427.0" cy="392.0" r="4.9"/>
<circle cx="443.0" cy="373.6" r="4.9"/>
<circle cx="515.0" cy="393.6" r="4.9"/>
<circle cx="605.0" cy="385.4" r="4.9"/>
<circle cx="420.0" cy="465.0" r="4.9"/>
<circle cx="464.0" cy="480.0" r="4.9"/>
<circle cx="559.0" cy="463.4" r="4.9"/>
<circle cx="483.0" cy="516.4" r="4.9"/>
<circle cx="739.4" cy="436.0" r="4.9"/>
<circle cx="266.6" cy="591.0" r="4.9"/>
</g>
<rect x="205" y="69" width="690" height="663" fill="none" stroke="#000" stroke-width="2"/>
<path d="M205.5,731V739M274.5,731V739M343.5,731V739M412.5,731V739M481.5,731V739M550.5,731V739M619.5,731V739M688.5,731V739M757.5,731V739M826.5,731V739M198,731.5H206M198,649.5H206M198,566.5H206M198,483.5H206M198,400.5H206M198,317.5H206M198,235.5H206M198,152.5H206" stroke="#fa3c3c" stroke-width="1" fill="none"/>
<rect x="957.5" y="127.5" width="40.0" height="24.0" fill="#8a2be2"/>
<rect x="957.5" y="151.5" width="40.0" height="23.0" fill="#9932cc"/>
<rect x="957.5" y="174.5" width="40.0" height="23.0" fill="#b03060"/>
<rect x="957.5" y="197.5" width="40.0" height="22.0" fill="#c71585"/>
<rect x="957.5" y="219.5" width="40.0" height="23.0" fill="#ff0000"/>
<rect x="957.5" y="242.5" width="40.0" height="23.0" fill="#ff0050"/>
<rect x="957.5" y="265.5" width="40.0" height="23.0" fill="#fa2860"/>
<rect x="957.5" y="288.5" width="40.0" height="23.0" fill="#ff6464"/>
<rect x="957.5" y="311.5" width="40.0" height="23.0" fill="#f05a28"/>
<rect x="957.5" y="334.5" width="40.0" height="23.0" fill="#ff8c00"/>
<rect x="957.5" y="357.5" width="40.0" height="23.0" fill="#ffaf1e"/>
<rect x="957.5" y="380.5" width="40.0" height="22.0" fill="#f8b848"/>
<rect x="957.5" y="402.5" width="40.0" height="23.0" fill="#ffec00"/>
<rect x="957.5" y="425.5" width="40.0" height="23.0" fill="#fff500"/>
<rect x="957.5" y="448.5" width="40.0" height="23.0" fill="#f4e45a"/>
<rect x="957.5" y="471.5" width="40.0" height="23.0" fill="#f5fa6e"/>
<rect x="957.5" y="494.5" width="40.0" height="23.0" fill="#70ac38"/>
<rect x="957.5" y="517.5" width="40.0" height="23.0" fill="#90d050"/>
<rect x="957.5" y="540.5" width="40.0" height="22.0" fill="#c0e078"/>
<rect x="957.5" y="562.5" width="40.0" height="23.0" fill="#c0d87c"/>
<rect x="957.5" y="585.5" width="40.0" height="23.0" fill="#deeabc"/>
<rect x="957.5" y="608.5" width="40.0" height="23.0" fill="#4a8fc4"/>
<rect x="957.5" y="631.5" width="40.0" height="23.0" fill="#70b0e0"/>
<rect x="957.5" y="654.5" width="40.0" height="23.0" fill="#a3dbf7"/>
<rect x="957.5" y="677.5" width="40.0" height="23.0" fill="#d6eefb"/>
<rect x="957.5" y="700.5" width="40.0" height="23.0" fill="#ffffff"/>
<path d="M957.5,151.5H997.5M957.5,174.5H997.5M957.5,197.5H997.5M957.5,219.5H997.5M957.5,242.5H997.5M957.5,265.5H997.5M957.5,288.5H997.5M957.5,311.5H997.5M957.5,334.5H997.5M957.5,357.5H997.5M957.5,380.5H997.5M957.5,402.5H997.5M957.5,425.5H997.5M957.5,448.5H997.5M957.5,471.5H997.5M957.5,494.5H997.5M957.5,517.5H997.5M957.5,540.5H997.5M957.5,562.5H997.5M957.5,585.5H997.5M957.5,608.5H997.5M957.5,631.5H997.5M957.5,654.5H997.5M957.5,677.5H997.5M957.5,700.5H997.5" stroke="#000" stroke-width="1" fill="none"/>
<rect x="957.5" y="127.5" width="40.0" height="596.0" fill="none" stroke="#000" stroke-width="1"/>
<path d="M955.5,750.5H1006M1006,750.5L992,743M1006,750.5L992,758" stroke="#000" stroke-width="1" fill="none" shape-rendering="auto"/>
<path d="M535.5,808V838" stroke="#000" stroke-width="1" fill="none"/>
</svg>
<span class="t" id="t0" style="left:170.90px;top:21.45px;font-size:27.75px;transform:scaleX(0.987)">2024</span>
<span class="t k" id="t1" style="left:227.55px;top:23.15px;font-size:24.0px">年</span>
<span class="t" id="t2" style="left:251.70px;top:21.45px;font-size:27.75px;transform:scaleX(0.901)">10</span>
<span class="t k" id="t3" style="left:279.50px;top:22.15px;font-size:24.0px">月</span>
<span class="t" id="t4" style="left:306.20px;top:21.45px;font-size:27.75px;transform:scaleX(0.946)">23</span>
<span class="t k" id="t5" style="left:335.00px;top:24.15px;font-size:20.0px">日</span>
<span class="t" id="t6" style="left:358.70px;top:21.45px;font-size:27.75px;transform:scaleX(0.963)">WRF/cmaq</span>
<span class="t k" id="t7" style="left:482.60px;top:22.70px;font-size:24.0px;transform:scaleX(0.989)">模式</span>
<span class="t" id="t8" style="left:530.60px;top:21.45px;font-size:27.75px;transform:scaleX(1.029)">12km</span>
<span class="t k" id="t9" style="left:596.30px;top:23.40px;font-size:24.0px;transform:scaleX(0.975)">预报产品</span>
<span class="t" id="t10" style="left:691.05px;top:21.25px;font-size:27.75px;transform:scaleX(0.987)">:</span>
<span class="t" id="t11" style="left:699.70px;top:21.45px;font-size:27.75px;transform:scaleX(1.005)">10</span>
<span class="t k" id="t12" style="left:729.50px;top:22.15px;font-size:24.0px">月</span>
<span class="t" id="t13" style="left:755.80px;top:21.45px;font-size:27.75px;transform:scaleX(0.954)">23</span>
<span class="t k" id="t14" style="left:784.55px;top:24.15px;font-size:20.0px">日</span>
<span class="t" id="t15" style="left:805.80px;top:21.45px;font-size:27.75px;transform:scaleX(0.954)">06</span>
<span class="t k" id="t16" style="left:834.30px;top:22.65px;font-size:24.0px">时</span>
<span class="t" id="t17" style="left:870.70px;top:21.45px;font-size:27.75px;transform:scaleX(0.941);color:#fa3c3c">O3</span>
<span class="t" id="y7" style="left:132.80px;top:140.50px;font-size:25.5px;transform:scaleX(0.939);color:#fa3c3c">24.5N</span>
<span class="t" id="y0" style="left:152.40px;top:719.90px;font-size:25.5px;transform:scaleX(0.907);color:#fa3c3c">21N</span>
<span class="t" id="y1" style="left:133.00px;top:637.11px;font-size:25.5px;transform:scaleX(0.939);color:#fa3c3c">21.5N</span>
<span class="t" id="y2" style="left:152.40px;top:554.32px;font-size:25.5px;transform:scaleX(0.907);color:#fa3c3c">22N</span>
<span class="t" id="y3" style="left:133.00px;top:471.53px;font-size:25.5px;transform:scaleX(0.939);color:#fa3c3c">22.5N</span>
<span class="t" id="y4" style="left:152.40px;top:388.74px;font-size:25.5px;transform:scaleX(0.907);color:#fa3c3c">23N</span>
<span class="t" id="y5" style="left:133.00px;top:305.95px;font-size:25.5px;transform:scaleX(0.939);color:#fa3c3c">23.5N</span>
<span class="t" id="y6" style="left:152.40px;top:223.16px;font-size:25.5px;transform:scaleX(0.907);color:#fa3c3c">24N</span>
<span class="t" id="x0" style="left:170.50px;top:739.05px;font-size:25.5px;transform:scaleX(0.99);color:#fa3c3c">111.5E</span>
<span class="t" id="x1" style="left:249.35px;top:739.05px;font-size:25.5px;transform:scaleX(0.959);color:#fa3c3c">112E</span>
<span class="t" id="x2" style="left:308.35px;top:739.05px;font-size:25.5px;transform:scaleX(0.975);color:#fa3c3c">112.5E</span>
<span class="t" id="x3" style="left:387.45px;top:739.05px;font-size:25.5px;transform:scaleX(0.959);color:#fa3c3c">113E</span>
<span class="t" id="x4" style="left:446.45px;top:739.05px;font-size:25.5px;transform:scaleX(0.975);color:#fa3c3c">113.5E</span>
<span class="t" id="x5" style="left:525.55px;top:739.05px;font-size:25.5px;transform:scaleX(0.959);color:#fa3c3c">114E</span>
<span class="t" id="x6" style="left:584.55px;top:739.05px;font-size:25.5px;transform:scaleX(0.975);color:#fa3c3c">114.5E</span>
<span class="t" id="x7" style="left:663.65px;top:739.05px;font-size:25.5px;transform:scaleX(0.959);color:#fa3c3c">115E</span>
<span class="t" id="x8" style="left:722.65px;top:739.05px;font-size:25.5px;transform:scaleX(0.975);color:#fa3c3c">115.5E</span>
<span class="t" id="x9" style="left:801.75px;top:739.05px;font-size:25.5px;transform:scaleX(0.959);color:#fa3c3c">116E</span>
<span class="t" id="c0" style="left:1001.90px;top:139.00px;font-size:25.25px;transform:scaleX(1.112)">700</span>
<span class="t" id="c1" style="left:1002.00px;top:185.04px;font-size:25.25px;transform:scaleX(1.112)">500</span>
<span class="t" id="c2" style="left:1003.00px;top:230.79px;font-size:25.25px;transform:scaleX(1.112)">375</span>
<span class="t" id="c3" style="left:1003.00px;top:276.53px;font-size:25.25px;transform:scaleX(1.112)">325</span>
<span class="t" id="c4" style="left:1003.00px;top:322.28px;font-size:25.25px;transform:scaleX(1.112)">275</span>
<span class="t" id="c5" style="left:1003.00px;top:368.02px;font-size:25.25px;transform:scaleX(1.112)">225</span>
<span class="t" id="c6" style="left:1002.60px;top:413.76px;font-size:25.25px;transform:scaleX(1.112)">190</span>
<span class="t" id="c7" style="left:1002.60px;top:459.51px;font-size:25.25px;transform:scaleX(1.112)">170</span>
<span class="t" id="c8" style="left:1002.60px;top:505.25px;font-size:25.25px;transform:scaleX(1.112)">144</span>
<span class="t" id="c9" style="left:1002.60px;top:551.00px;font-size:25.25px;transform:scaleX(1.112)">112</span>
<span class="t" id="c10" style="left:1003.00px;top:596.74px;font-size:25.25px;transform:scaleX(1.112)">80</span>
<span class="t" id="c11" style="left:1003.00px;top:642.48px;font-size:25.25px;transform:scaleX(1.112)">48</span>
<span class="t" id="c12" style="left:1002.60px;top:688.23px;font-size:25.25px;transform:scaleX(1.112)">16</span>
<span class="t" id="unit" style="left:940.20px;top:88.10px;font-size:24.5px;transform:scaleX(1.171)">(ug/m3)</span>
<span class="t" id="ms0" style="left:940.60px;top:761.00px;font-size:21.75px;transform:scaleX(1.177)">10</span>
<span class="t" id="ms1" style="left:978.20px;top:761.00px;font-size:21.75px;transform:scaleX(1.487)">m/s</span>
<span class="t k" id="f0" style="left:359.00px;top:811.90px;font-size:20.5px;transform:scaleX(0.983)">版权所有</span>
<span class="t" id="f1" style="left:440.15px;top:810.50px;font-size:22.0px">:</span>
<span class="t k" id="f2" style="left:451.00px;top:812.40px;font-size:20.5px;transform:scaleX(0.974)">南京大学</span>
<span class="t k" id="f3" style="left:543.10px;top:812.75px;font-size:20.5px;transform:scaleX(0.976)">南京创蓝科技有限公司</span>
</body></html>
